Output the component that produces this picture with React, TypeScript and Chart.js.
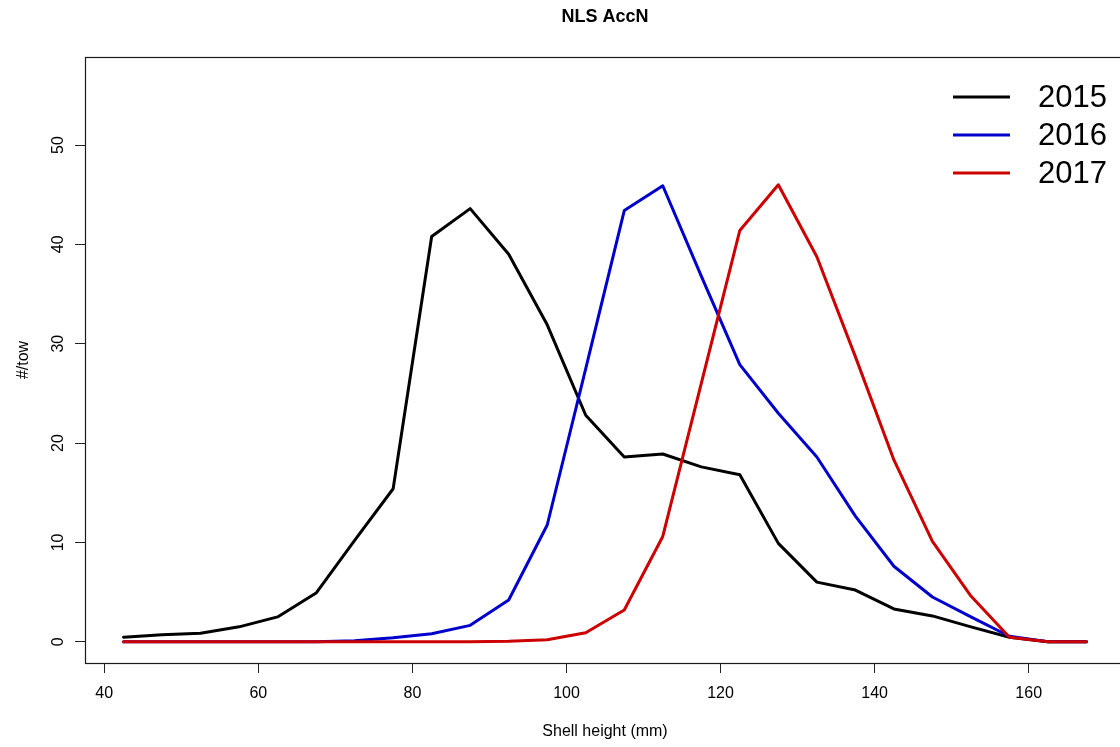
import React, { useEffect, useRef } from "react";
import { Chart, registerables } from "chart.js";

Chart.register(...registerables);

// Shell height bins (mm)
const shellHeights = [
  42.5, 47.5, 52.5, 57.5, 62.5, 67.5, 72.5, 77.5, 82.5, 87.5, 92.5, 97.5, 102.5,
  107.5, 112.5, 117.5, 122.5, 127.5, 132.5, 137.5, 142.5, 147.5, 152.5, 157.5, 162.5, 167.5,
];

// Number per tow, by year
const tow2015 = [
  0.45, 0.7, 0.85, 1.5, 2.5, 4.9, 10.2, 15.4, 40.8, 43.6, 39.0, 31.9, 22.8,
  18.6, 18.9, 17.6, 16.8, 9.9, 6.0, 5.2, 3.3, 2.6, 1.5, 0.45, 0, 0,
];
const tow2016 = [
  0, 0, 0, 0, 0, 0, 0.1, 0.4, 0.8, 1.65, 4.2, 11.75, 27.5,
  43.4, 45.9, 36.8, 27.9, 23.0, 18.6, 12.65, 7.6, 4.5, 2.5, 0.55, 0, 0,
];
const tow2017 = [
  0, 0, 0, 0, 0, 0, 0, 0, 0, 0, 0.05, 0.2, 0.9,
  3.2, 10.6, 26.0, 41.4, 46.0, 38.75, 28.7, 18.3, 10.1, 4.6, 0.45, 0, 0,
];

const seriesNames = ["2015", "2016", "2017"];
const seriesValues = [tow2015, tow2016, tow2017];
const seriesColors = ["#000000", "#0000CD", "#CD0000"];

const xTicks = [40, 60, 80, 100, 120, 140, 160];
const yTicks = [0, 10, 20, 30, 40, 50];

const titleText = "NLS AccN";
const xTitle = "Shell height (mm)";
const yTitle = "#/tow";

const FONT = "'Liberation Sans', Arial, Helvetica, sans-serif";

const boxAndLegend = {
  id: "boxAndLegend",
  afterDraw(chart: any) {
    const { ctx, chartArea: a } = chart;
    ctx.save();
    // R-style box around plot region
    ctx.strokeStyle = "#1a1a1a";
    ctx.lineWidth = 1.2;
    ctx.strokeRect(
      Math.round(a.left) + 0.5,
      Math.round(a.top) + 0.5,
      Math.round(a.right - a.left),
      Math.round(a.bottom - a.top)
    );
    // Legend (top-right, no frame)
    const x0 = a.right - 172;
    const x1 = a.right - 115;
    const tx = a.right - 87;
    const y0 = a.top + 40;
    const dy = 38;
    ctx.font = `31px ${FONT}`;
    ctx.textBaseline = "middle";
    ctx.textAlign = "left";
    chart.data.datasets.forEach((ds: any, i: number) => {
      const y = y0 + i * dy;
      ctx.strokeStyle = ds.borderColor;
      ctx.lineWidth = 3;
      ctx.lineCap = "butt";
      ctx.beginPath();
      ctx.moveTo(x0, y);
      ctx.lineTo(x1, y);
      ctx.stroke();
      ctx.fillStyle = "#000";
      ctx.fillText(ds.label, tx, y + 1);
    });
    ctx.restore();
  },
};

export default function App() {
  const ref = useRef<HTMLCanvasElement>(null);

  useEffect(() => {
    if (!ref.current) return;
    const datasets = seriesNames.map((name, i) => ({
      label: name,
      data: shellHeights.map((x, j) => ({ x, y: seriesValues[i][j] })),
      borderColor: seriesColors[i],
      backgroundColor: seriesColors[i],
      borderWidth: 3,
      pointRadius: 0,
      tension: 0,
      fill: false,
      borderCapStyle: "round" as const,
      borderJoinStyle: "round" as const,
      order: seriesNames.length - i,
    }));

    const tickGrid = {
      drawOnChartArea: false,
      drawTicks: true,
      tickLength: 10,
      color: "#222",
      lineWidth: 1,
    };

    const chart = new Chart(ref.current, {
      type: "line",
      data: { datasets },
      plugins: [boxAndLegend],
      options: {
        animation: false,
        responsive: false,
        maintainAspectRatio: false,
        layout: { padding: 0 },
        plugins: {
          legend: { display: false },
          tooltip: { enabled: false },
          title: {
            display: true,
            text: titleText,
            color: "#000",
            fullSize: false,
            font: { family: FONT, size: 18, weight: "bold" },
            padding: { top: 6, bottom: 29.4 },
          },
        },
        scales: {
          x: {
            type: "linear",
            min: 37.5,
            max: 172.5,
            afterBuildTicks: (s: any) => {
              s.ticks = xTicks.map((v) => ({ value: v }));
            },
            afterFit: (s: any) => {
              s.height = 84;
            },
            border: { display: false },
            grid: tickGrid,
            ticks: {
              color: "#000",
              autoSkip: false,
              maxRotation: 0,
              minRotation: 0,
              padding: 10.5,
              font: { family: FONT, size: 16 },
              callback: (v: any) => String(v),
            },
            title: {
              display: true,
              text: xTitle,
              color: "#000",
              font: { family: FONT, size: 16 },
              padding: { top: 0, bottom: 5.7 },
            },
          },
          y: {
            type: "linear",
            min: -2.14,
            max: 58.86,
            afterBuildTicks: (s: any) => {
              s.ticks = yTicks.map((v) => ({ value: v }));
            },
            afterFit: (s: any) => {
              s.width = 85;
            },
            border: { display: false },
            grid: tickGrid,
            ticks: {
              color: "#000",
              autoSkip: false,
              minRotation: 90,
              maxRotation: 90,
              crossAlign: "center",
              padding: 8,
              font: { family: FONT, size: 16 },
              callback: (v: any) => String(v),
            },
            title: {
              display: true,
              text: yTitle,
              color: "#000",
              font: { family: FONT, size: 16 },
              padding: { top: 14, bottom: 0 },
            },
          },
        },
      },
    } as any);

    return () => chart.destroy();
  }, []);

  return (
    <div
      style={{
        position: "fixed",
        left: 0,
        top: 0,
        width: 1120,
        height: 747,
        overflow: "hidden",
        background: "#fff",
      }}
    >
      <canvas ref={ref} width={1125} height={747} style={{ display: "block" }} />
    </div>
  );
}
